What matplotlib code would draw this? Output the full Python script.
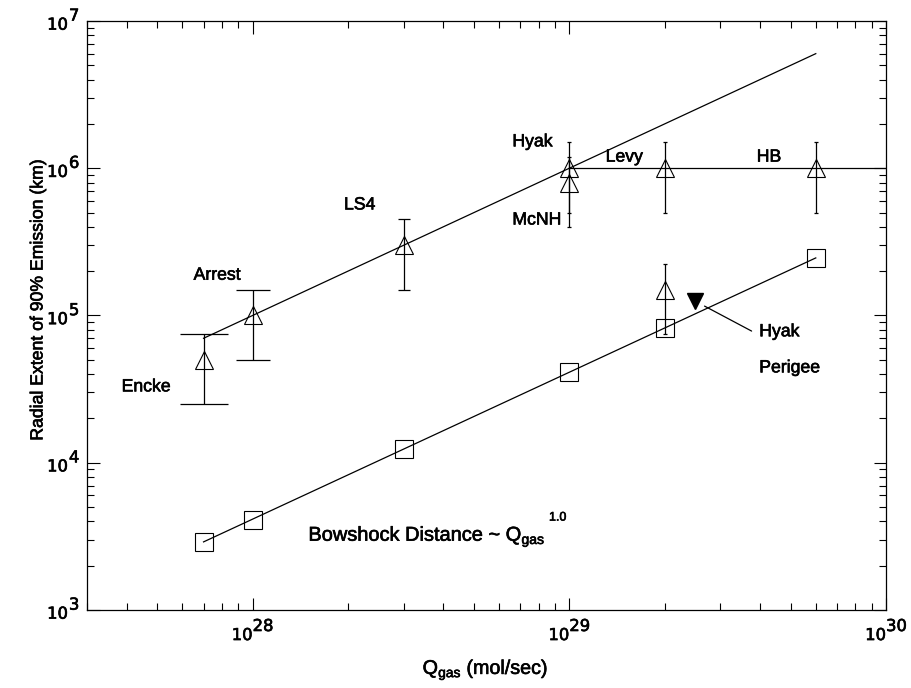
import matplotlib
matplotlib.use("Agg")
import matplotlib.pyplot as plt
import matplotlib.patheffects as pe
import numpy as np

plt.rcParams['font.family'] = ['Liberation Sans', 'DejaVu Sans']

# Lyman-alpha extent (triangles), with error ranges
comets = ["Encke", "Arrest", "LS4", "Hyak", "McNH", "Levy", "HB"]
q_comet = [7e27, 1e28, 3e28, 1e29, 1e29, 2e29, 6e29]
r_comet = [5e4, 1e5, 3e5, 1e6, 8e5, 1e6, 1e6]
r_low = [2.5e4, 5e4, 1.5e5, 5e5, 4e5, 5e5, 5e5]
r_high = [7.5e4, 1.5e5, 4.5e5, 1.5e6, 1.2e6, 1.5e6, 1.5e6]

# unlabelled Levy point below
q_extra = [2e29]
r_extra = [1.5e5]
r_extra_low = [7.5e4]
r_extra_high = [2.25e5]

# bowshock distance (squares)
q_bow = [7e27, 1e28, 3e28, 1e29, 2e29, 6e29]
r_bow = [2.9e3, 4.1e3, 1.23e4, 4.1e4, 8.2e4, 2.46e5]

# fitted lines
q_fit = [7e27, 6e29]
r_fit = [7e4, 6e6]
q_sat = [1e29, 1e30]
r_sat = [1e6, 1e6]
q_bow_fit = [7e27, 6e29]
r_bow_fit = [2.9e3, 2.46e5]

# Hyak at perigee
q_peri = [2.5e29]
r_peri = [1.25e5]

x_decades = [28, 29, 30]
y_decades = [3, 4, 5, 6, 7]

bold = [pe.withStroke(linewidth=0.45, foreground='black')]

fig = plt.figure(figsize=(9.11, 6.88), dpi=100)
ax = fig.add_axes([0.0955, 0.1134, 0.8771, 0.8561])
ax.set_xscale('log')
ax.set_yscale('log')
ax.set_xlim(3e27, 1e30)
ax.set_ylim(1e3, 1e7)

lw = 0.9
ax.plot(q_fit, r_fit, color='black', lw=lw)
ax.plot(q_sat, r_sat, color='black', lw=lw)
ax.plot(q_bow_fit, r_bow_fit, color='black', lw=lw)

caps = {"Encke": 17.3, "Arrest": 12.2, "LS4": 4.3}
for name, q, r, lo, hi in zip(comets, q_comet, r_comet, r_low, r_high):
    ax.errorbar([q], [r], yerr=[[r - lo], [hi - r]], fmt='none', ecolor='black',
                elinewidth=lw, capsize=caps.get(name, 1.5), capthick=lw)
ax.errorbar(q_extra, r_extra,
            yerr=[np.array(r_extra) - np.array(r_extra_low),
                  np.array(r_extra_high) - np.array(r_extra)],
            fmt='none', ecolor='black', elinewidth=lw, capsize=1.5, capthick=lw)

ax.plot(q_comet, r_comet, ls='none', marker='^', ms=13, mfc='none', mec='black', mew=0.8)
ax.plot(q_extra, r_extra, ls='none', marker='^', ms=13, mfc='none', mec='black', mew=0.8)
ax.plot(q_bow, r_bow, ls='none', marker='s', ms=12.7, mfc='none', mec='black', mew=0.8)
ax.plot(q_peri, r_peri, ls='none', marker='v', ms=11.5, color='black')

# comet labels, offset from their points
label_off = {"Encke": (-59, -19.5), "Arrest": (-42.5, 29), "LS4": (-43, 29),
             "Hyak": (-41, 19), "McNH": (-41, -27), "Levy": (-42.5, 8), "HB": (-42.5, 8)}
for name, q, r in zip(comets, q_comet, r_comet):
    ax.annotate(name, xy=(q, r), xytext=label_off[name], textcoords='offset points',
                ha='left', va='center', fontsize=12.7, path_effects=bold)

ax.annotate("", xy=(q_peri[0], r_peri[0]), xytext=(40.5, -21.5), textcoords='offset points',
            arrowprops=dict(arrowstyle='-', color='black', lw=lw, shrinkA=0, shrinkB=7.5))
ax.annotate("Hyak", xy=(q_peri[0], r_peri[0]), xytext=(46, -22), textcoords='offset points',
            ha='left', va='center', fontsize=12.7, path_effects=bold)
ax.annotate("Perigee", xy=(q_peri[0], r_peri[0]), xytext=(46, -48), textcoords='offset points',
            ha='left', va='center', fontsize=12.7, path_effects=bold)

bow = ax.text(1.5e28, 2.95e3, r"Bowshock Distance ~ Q$_{\mathregular{gas}}$",
              ha='left', va='baseline', fontsize=14.4, path_effects=bold)
# IDL puts the exponent after the subscript, well above the cap line
ax.annotate("1.0", xy=(1, 1), xycoords=bow, xytext=(2.5, 0), textcoords='offset points',
            ha='left', va='bottom', fontsize=9, path_effects=bold)

# axes frame and ticks
for sp in ax.spines.values():
    sp.set_linewidth(0.9)
ax.tick_params(which='both', direction='in', top=True, right=True, width=0.8,
               labelbottom=False, labelleft=False)
ax.tick_params(which='major', length=9)
ax.tick_params(which='minor', length=5)

# IDL style tick labels: exponent same size as base
tick_fs = 11.8
for e in x_decades:
    ax.annotate("10", xy=(10.0 ** e, 0), xycoords=('data', 'axes fraction'),
                xytext=(0, -13), textcoords='offset points', ha='right', va='top',
                fontsize=tick_fs, family='DejaVu Sans', path_effects=bold)
    ax.annotate(str(e), xy=(10.0 ** e, 0), xycoords=('data', 'axes fraction'),
                xytext=(0, -6.5), textcoords='offset points', ha='left', va='top',
                fontsize=tick_fs, family='DejaVu Sans', path_effects=bold)
for e in y_decades:
    ax.annotate("10", xy=(0, 10.0 ** e), xycoords=('axes fraction', 'data'),
                xytext=(-13.7, -3), textcoords='offset points', ha='right', va='center',
                fontsize=tick_fs, family='DejaVu Sans', path_effects=bold)
    ax.annotate(str(e), xy=(0, 10.0 ** e), xycoords=('axes fraction', 'data'),
                xytext=(-13, 3.5), textcoords='offset points', ha='left', va='center',
                fontsize=tick_fs, family='DejaVu Sans', path_effects=bold)

fig.text(0.533, 1 - 674 / 688, r"Q$_{\mathregular{gas}}$ (mol/sec)", ha='center',
         va='baseline', fontsize=14.2, path_effects=bold)
fig.text(38 / 911, 1 - 300 / 688, "Radial Extent of 90% Emission (km)", rotation=90,
         ha='center', va='center', fontsize=12.7, path_effects=bold)

fig.savefig("out.png", dpi=100)
